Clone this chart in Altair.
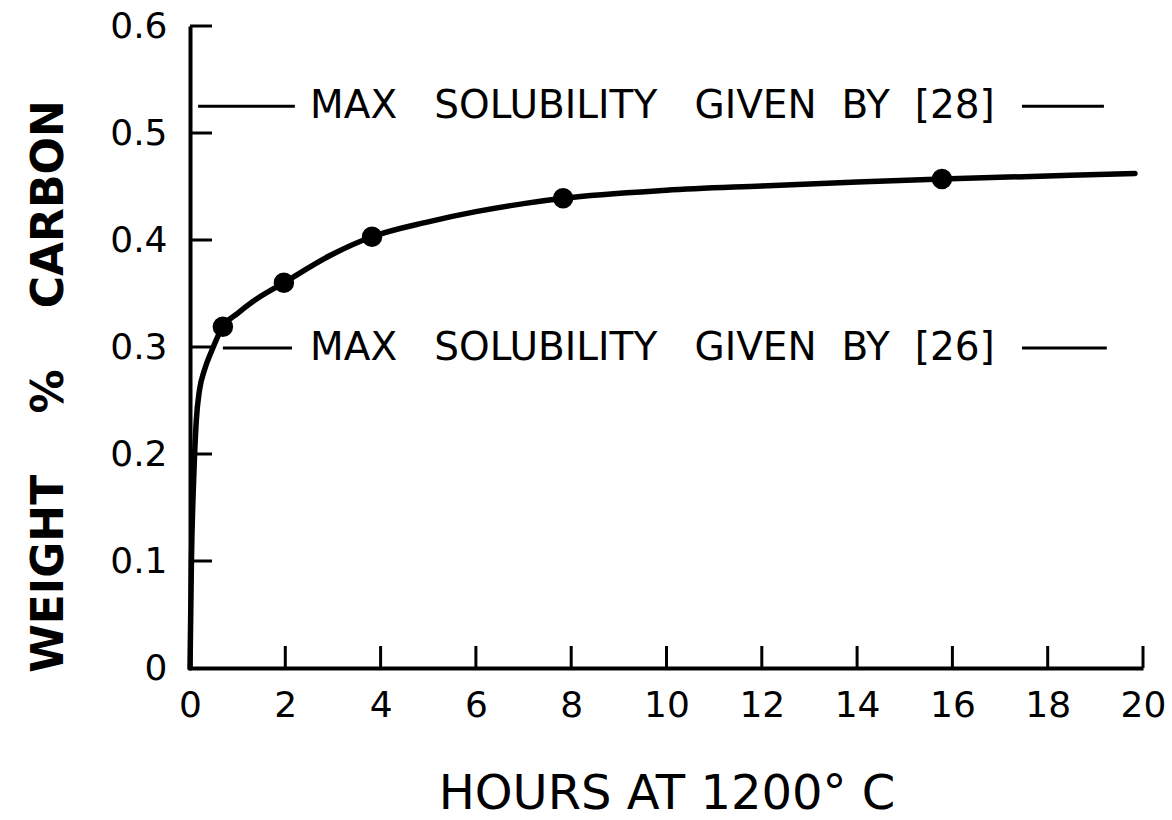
import altair as alt
import pandas as pd

# Smooth curve
curve_hours = [0, 0.03, 0.08, 0.13, 0.2, 0.3, 0.46, 0.69, 1.0, 1.32, 1.97, 2.94, 3.82,
               5.0, 6.0, 7.0, 7.83, 10, 12, 14, 15.78, 18, 19.83]
curve_carbon = [0, 0.1, 0.18, 0.23, 0.26, 0.278, 0.297, 0.319, 0.3315, 0.3425, 0.360, 0.3855, 0.403,
                0.417, 0.4265, 0.434, 0.439, 0.4465, 0.4505, 0.4542, 0.457, 0.4598, 0.4622]

# Measured points
point_hours = [0.69, 1.97, 3.82, 7.83, 15.78]
point_carbon = [0.319, 0.360, 0.403, 0.439, 0.457]

# Ticks
x_ticks = [2, 4, 6, 8, 10, 12, 14, 16, 18, 20]
x_labels = [0, 2, 4, 6, 8, 10, 12, 14, 16, 18, 20]
y_ticks = [0.1, 0.2, 0.3, 0.4, 0.5, 0.6]
y_labels = [0, 0.1, 0.2, 0.3, 0.4, 0.5, 0.6]

# Annotations
NB = "\u00a0"
ann_text = ["MAX" + NB * 3 + "SOLUBILITY" + NB * 3 + "GIVEN" + NB * 2 + "BY" + NB * 2 + "[28]",
            "MAX" + NB * 3 + "SOLUBILITY" + NB * 3 + "GIVEN" + NB * 2 + "BY" + NB * 2 + "[26]"]
ann_y = [0.525, 0.299]
ann_text_x = [2.52, 2.52]
left_dash_x1 = [0.17, 0.69]
left_dash_x2 = [2.2, 2.14]
right_dash_x1 = [17.46, 17.46]
right_dash_x2 = [19.18, 19.24]

FONT = "DejaVu Sans"
W, H = 953, 642

curve_df = pd.DataFrame({"hours": curve_hours, "carbon": curve_carbon})
pts_df = pd.DataFrame({"hours": point_hours, "carbon": point_carbon})
xt_df = pd.DataFrame({"hours": x_ticks})
yt_df = pd.DataFrame({"carbon": y_ticks})
ann_df = pd.DataFrame({
    "label": ann_text, "carbon": ann_y, "tx": ann_text_x,
    "l1": left_dash_x1, "l2": left_dash_x2, "r1": right_dash_x1, "r2": right_dash_x2,
})

xscale = alt.Scale(domain=[0, 20], nice=False, zero=False)
yscale = alt.Scale(domain=[0, 0.6], nice=False, zero=False)

x_axis = alt.Axis(
    values=x_labels, format="d", title="HOURS" + NB + "AT" + NB + "1200\u00b0" + NB + "C",
    titleFontSize=48, titleFontWeight="normal", titleFont=FONT,
    titleBaseline="alphabetic", titleY=140, titleX=W / 2, titleAlign="center",
    labelPadding=20, labelFontSize=36, labelFlush=False,
)
y_axis = alt.Axis(
    values=y_labels, labelExpr="datum.value == 0 ? '0' : format(datum.value, '.1f')",
    title="WEIGHT" + NB * 4 + "%" + NB * 4 + "CARBON",
    titleFontSize=44, titleFontWeight="bold", titleFont=FONT,
    titleAngle=270, titleBaseline="alphabetic", titleX=-128, titleY=360, titleAlign="center",
    labelPadding=23, labelFontSize=36, labelFlush=False,
)

X = lambda f: alt.X(f, type="quantitative", scale=xscale, axis=x_axis)
Y = lambda f: alt.Y(f, type="quantitative", scale=yscale, axis=y_axis)

curve = alt.Chart(curve_df).mark_line(
    interpolate="monotone", color="black", strokeWidth=5.5, strokeCap="round"
).encode(x=X("hours"), y=Y("carbon"))

points = alt.Chart(pts_df).mark_circle(size=420, color="black", opacity=1).encode(
    x=X("hours"), y=Y("carbon")
)

xticks = alt.Chart(xt_df).mark_rule(color="black", strokeWidth=3).encode(
    x=X("hours"), y=alt.value(H), y2=alt.value(H - 22)
)
yticks = alt.Chart(yt_df).mark_rule(color="black", strokeWidth=3).encode(
    y=Y("carbon"), x=alt.value(0), x2=alt.value(22)
)

ldash = alt.Chart(ann_df).mark_rule(color="black", strokeWidth=3).encode(
    x=X("l1"), x2="l2", y=Y("carbon")
)
rdash = alt.Chart(ann_df).mark_rule(color="black", strokeWidth=3).encode(
    x=X("r1"), x2="r2", y=Y("carbon")
)
text = alt.Chart(ann_df).mark_text(
    align="left", baseline="middle", font=FONT, fontSize=39, color="black"
).encode(x=X("tx"), y=Y("carbon"), text="label")

chart = alt.layer(curve, points, xticks, yticks, ldash, rdash, text).properties(
    width=W, height=H,
    autosize=alt.AutoSizeParams(type="none"),
    padding={"left": 190, "top": 26, "right": 29, "bottom": 152},
    background="white",
).configure_view(stroke=None).configure_axis(
    grid=False, ticks=False, tickSize=0, domainColor="black", domainWidth=4,
    labelFont=FONT, labelColor="black", titleColor="black",
)

chart.save("out.html", embed_options={"renderer": "svg", "actions": False})
